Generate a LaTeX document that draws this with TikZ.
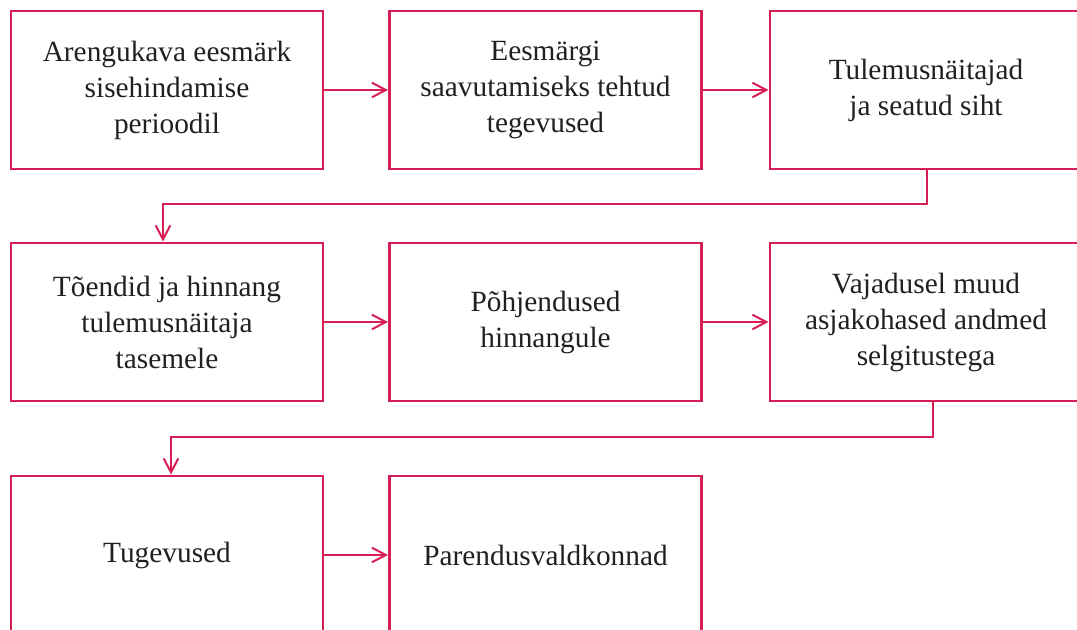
\documentclass[tikz,border=0pt]{standalone}
\usepackage{fontspec}
\setmainfont{Liberation Serif}
\usetikzlibrary{arrows.meta}
\definecolor{frame}{RGB}{214,31,84}
\definecolor{ink}{RGB}{35,31,32}
\begin{document}
\begin{tikzpicture}[x=0.75pt,y=-0.75pt,
  box/.style={draw=frame,line width=2.2pt,rectangle,minimum width=234pt,minimum height=118.5pt,
    align=center,text=ink,font=\fontsize{22}{27}\selectfont,inner sep=0pt},
  arr/.style={draw=frame,line width=1.5pt,-{Straight Barb[length=10.5pt,width=11pt,line width=1.5pt]}}]
\useasboundingbox (0,0) rectangle (1077,630);
\clip (0,0) rectangle (1077,630);
\node[box] (b1) at (167,90) {Arengukava eesmärk\\sisehindamise\\perioodil};
\node[box] (b2) at (545.5,90) {Eesmärgi\\saavutamiseks tehtud\\tegevused};
\node[box] (b3) at (926,90) {Tulemusnäitajad\\ja seatud siht};
\node[box] (b4) at (167,322) {Tõendid ja hinnang\\tulemusnäitaja\\tasemele};
\node[box] (b5) at (545.5,322) {Põhjendused\\hinnangule};
\node[box] (b6) at (926,322) {Vajadusel muud\\asjakohased andmed\\selgitustega};
\node[box] (b7) at (167,555) {Tugevused};
\node[box] (b8) at (545.5,555) {Parendusvaldkonnad};
\coordinate (k1) at (163,204);
\coordinate (k2) at (171,437);
\draw[arr] (b1) -- (b2);
\draw[arr] (b2) -- (b3);
\draw[arr] (b4) -- (b5);
\draw[arr] (b5) -- (b6);
\draw[arr] (b7) -- (b8);
\draw[arr] ([xshift=0.75pt]b3.south) |- (k1) -- (k1 |- b4.north);
\draw[arr] ([xshift=5.25pt]b6.south) |- (k2) -- (k2 |- b7.north);
\end{tikzpicture}
\end{document}
